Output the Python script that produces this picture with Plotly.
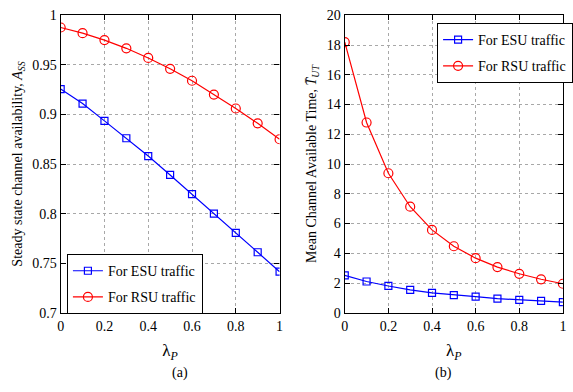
import plotly.graph_objects as go

# Arrival rate of primary users
lam_p = [0, 0.1, 0.2, 0.3, 0.4, 0.5, 0.6, 0.7, 0.8, 0.9, 1.0]

# (a) Steady state channel availability
a_esu = [0.9256, 0.911, 0.8935, 0.876, 0.858, 0.839, 0.8197, 0.800, 0.7806, 0.761, 0.7414]
a_rsu = [0.9877, 0.982, 0.975, 0.9667, 0.957, 0.946, 0.934, 0.920, 0.906, 0.891, 0.875]

# (b) Mean channel available time
t_esu = [2.51, 2.10, 1.80, 1.54, 1.34, 1.19, 1.08, 0.95, 0.87, 0.80, 0.71]
t_rsu = [18.19, 12.79, 9.38, 7.13, 5.57, 4.47, 3.67, 3.07, 2.62, 2.25, 1.95]

x_ticks = [0, 0.2, 0.4, 0.6, 0.8, 1]
x_ticktext = ["0", "0.2", "0.4", "0.6", "0.8", "1"]
a_ticks = [0.7, 0.75, 0.8, 0.85, 0.9, 0.95, 1.0]
a_ticktext = ["0.7", "0.75", "0.8", "0.85", "0.9", "0.95", "1"]
t_ticks = [0, 2, 4, 6, 8, 10, 12, 14, 16, 18, 20]

FONT = "Liberation Serif, Times New Roman, serif"
BLUE = "#0000ff"
RED = "#ff0000"

fig = go.Figure()

def add_series(x, y, name, color, symbol, xa, ya, legend, group, size):
    fig.add_trace(go.Scatter(
        x=x, y=y, name=name, mode="lines+markers",
        line=dict(color=color, width=1.2),
        marker=dict(symbol=symbol, size=size, color=color,
                    line=dict(color=color, width=1.2)),
        xaxis=xa, yaxis=ya, legend=legend, legendgroup=group,
    ))

add_series(lam_p, a_esu, "For ESU traffic", BLUE, "square-open", "x", "y", "legend", "a1", 7)
add_series(lam_p, a_rsu, "For RSU traffic", RED, "circle-open", "x", "y", "legend", "a2", 9)
add_series(lam_p, t_esu, "For ESU traffic", BLUE, "square-open", "x2", "y2", "legend2", "b1", 7)
add_series(lam_p, t_rsu, "For RSU traffic", RED, "circle-open", "x2", "y2", "legend2", "b2", 9)

axis_common = dict(
    showline=True, linecolor="black", linewidth=1.2, mirror="ticks",
    ticks="inside", ticklen=5, tickcolor="black",
    showgrid=True, gridcolor="#a8a8a8", griddash="dot", gridwidth=1,
    zeroline=False, tickfont=dict(family=FONT, size=14, color="black"),
)

legend_common = dict(
    xanchor="left", yanchor="top",
    bgcolor="white", bordercolor="black", borderwidth=1.2,
    font=dict(family=FONT, size=14, color="black"), tracegroupgap=5,
    traceorder="grouped", itemwidth=30,
)

caption_y = (392 - 381) / 392

fig.update_layout(
    width=573, height=392,
    margin=dict(l=0, r=0, t=0, b=0),
    paper_bgcolor="white", plot_bgcolor="white",
    font=dict(family=FONT, size=14, color="black"),
    showlegend=True,
    xaxis=dict(domain=[0.1012, 0.4921], range=[0, 1], tickvals=x_ticks, ticktext=x_ticktext,
               anchor="y",
               title=dict(text="λ<sub><i>P</i></sub>", font=dict(family=FONT, size=17), standoff=11),
               **axis_common),
    yaxis=dict(domain=[0.189, 0.978], range=[0.7, 1.0], tickvals=a_ticks, ticktext=a_ticktext,
               anchor="x",
               title=dict(text="Steady state channel availability, <i>A</i><sub><i>SS</i></sub>",
                          font=dict(family=FONT, size=14), standoff=6),
               **axis_common),
    xaxis2=dict(domain=[0.6085, 0.998], range=[0, 1], tickvals=x_ticks, ticktext=x_ticktext,
                anchor="y2",
                title=dict(text="λ<sub><i>P</i></sub>", font=dict(family=FONT, size=17), standoff=11),
                **axis_common),
    yaxis2=dict(domain=[0.189, 0.978], range=[0, 20], tickvals=t_ticks,
                anchor="x2",
                title=dict(text="Mean Channel Available Time, <i>T̄</i><sub><i>UT</i></sub>",
                           font=dict(family=FONT, size=14), standoff=6),
                **axis_common),
    legend=dict(x=0.112, y=0.345, **legend_common),
    legend2=dict(x=0.773, y=0.958, **legend_common),
    annotations=[
        dict(text="(a)", x=0.2967, y=caption_y, xref="paper", yref="paper", showarrow=False,
             yanchor="middle", font=dict(family=FONT, size=14)),
        dict(text="(b)", x=0.8033, y=caption_y, xref="paper", yref="paper", showarrow=False,
             yanchor="middle", font=dict(family=FONT, size=14)),
    ],
)

fig.write_html("out.html")
